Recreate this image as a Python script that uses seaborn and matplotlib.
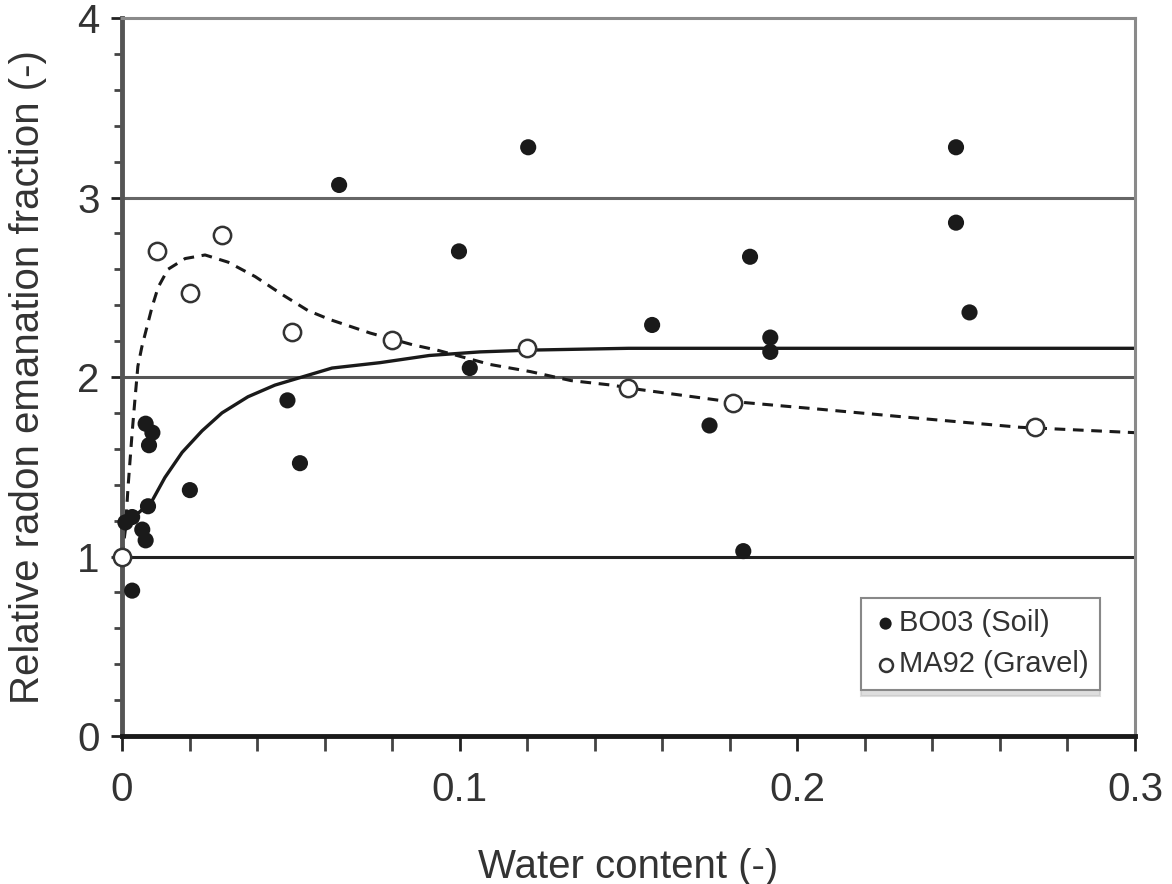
import numpy as np
import pandas as pd
import seaborn as sns
import matplotlib.pyplot as plt
from matplotlib.ticker import MultipleLocator

# BO03 (Soil) measured points
soil_x = [0.001, 0.003, 0.006, 0.007, 0.0077, 0.003, 0.007, 0.009, 0.008, 0.0201,
          0.049, 0.0527, 0.0643, 0.0998, 0.103, 0.1203, 0.157, 0.174, 0.184, 0.186,
          0.192, 0.192, 0.247, 0.247, 0.251]
soil_y = [1.19, 1.22, 1.15, 1.09, 1.28, 0.81, 1.74, 1.69, 1.62, 1.37,
          1.87, 1.52, 3.07, 2.70, 2.05, 3.28, 2.29, 1.73, 1.03, 2.67,
          2.22, 2.14, 3.28, 2.86, 2.36]

# MA92 (Gravel) measured points
gravel_x = [0.0, 0.0104, 0.0201, 0.0296, 0.0503, 0.080, 0.120, 0.150, 0.181, 0.2705]
gravel_y = [1.0, 2.70, 2.47, 2.79, 2.25, 2.205, 2.16, 1.94, 1.855, 1.72]

# fitted curves
dash_x = [0.0, 0.001, 0.0018, 0.003, 0.0039, 0.0047, 0.0059, 0.0074, 0.0089, 0.0107,
          0.0136, 0.0187, 0.0246, 0.0314, 0.0394, 0.0474, 0.0551, 0.0616, 0.0735, 0.086,
          0.0933, 0.109, 0.121, 0.133, 0.145, 0.1534, 0.177, 0.207, 0.236, 0.266, 0.30]
dash_y = [1.0, 1.15, 1.39, 1.69, 1.89, 2.06, 2.17, 2.28, 2.39, 2.50,
          2.60, 2.66, 2.68, 2.64, 2.56, 2.46, 2.37, 2.32, 2.245, 2.18,
          2.15, 2.07, 2.03, 1.98, 1.955, 1.93, 1.87, 1.82, 1.77, 1.72, 1.69]

solid_x = [0.002, 0.0047, 0.0089, 0.0127, 0.0178, 0.0237, 0.0296, 0.0373, 0.0453, 0.0533,
           0.0622, 0.0764, 0.091, 0.106, 0.121, 0.15, 0.2, 0.3]
solid_y = [1.20, 1.24, 1.31, 1.44, 1.58, 1.70, 1.80, 1.89, 1.955, 2.00,
           2.05, 2.08, 2.12, 2.14, 2.15, 2.16, 2.16, 2.16]

soil = pd.DataFrame({'x': soil_x, 'y': soil_y})
gravel = pd.DataFrame({'x': gravel_x, 'y': gravel_y})
dash = pd.DataFrame({'x': dash_x, 'y': dash_y})
solid = pd.DataFrame({'x': solid_x, 'y': solid_y})

sns.set_style('ticks')
plt.rcParams['font.family'] = ['Liberation Sans', 'DejaVu Sans']

fig = plt.figure(figsize=(11.72, 8.84), dpi=100)
ax = fig.add_axes([0.1041, 0.1674, 0.8643, 0.8122])

# horizontal reference lines
ax.axhline(3, color='#666666', lw=2.2, zorder=1)
ax.axhline(2, color='#555555', lw=2.2, zorder=1)
ax.axhline(1, color='#222222', lw=2.2, zorder=1)

sns.lineplot(data=solid, x='x', y='y', ax=ax, color='#1a1a1a', lw=2.4, sort=False, zorder=2)
sns.lineplot(data=dash, x='x', y='y', ax=ax, color='#1a1a1a', lw=2.2, sort=False,
             linestyle=(0, (3.5, 2.5)), zorder=2)

sns.scatterplot(data=soil, x='x', y='y', ax=ax, color='#1a1a1a', s=135, edgecolor='none',
                label='BO03 (Soil)', zorder=4, clip_on=False)
sns.scatterplot(data=gravel, x='x', y='y', ax=ax, facecolor='white', edgecolor='#333333',
                s=155, linewidth=1.8, label='MA92 (Gravel)', zorder=5, clip_on=False)

ax.set_xlim(0, 0.3)
ax.set_ylim(0, 4)
ax.xaxis.set_minor_locator(MultipleLocator(0.02))
ax.yaxis.set_minor_locator(MultipleLocator(0.2))
ax.set_xticks([0, 0.1, 0.2, 0.3])
ax.set_xticklabels(['0', '0.1', '0.2', '0.3'])
ax.set_yticks([0, 1, 2, 3, 4])
ax.set_yticklabels(['0', '1', '2', '3', '4'])

ax.tick_params(axis='x', which='major', direction='out', length=11, width=2, color='#222222',
               pad=14, labelsize=29, labelcolor='#333333')
ax.tick_params(axis='x', which='minor', direction='out', length=11, width=2, color='#444444')
ax.tick_params(axis='y', which='major', direction='out', length=8, width=2, color='#222222',
               pad=8, labelsize=29, labelcolor='#333333')
ax.tick_params(axis='y', which='minor', direction='out', length=6, width=2, color='#444444')

for side in ['top', 'right']:
    ax.spines[side].set_visible(True)
    ax.spines[side].set_color('#8a8a8a')
    ax.spines[side].set_linewidth(2.2)
ax.spines['left'].set_color('#555555')
ax.spines['left'].set_linewidth(3.5)
ax.spines['bottom'].set_color('#1a1a1a')
ax.spines['bottom'].set_linewidth(3.5)

ax.set_xlabel('Water content (-)', fontsize=29, color='#333333', labelpad=28)
ax.set_ylabel('Relative radon emanation fraction (-)', fontsize=29, color='#333333',
              labelpad=22)

leg = ax.legend(loc='lower right', bbox_to_anchor=(0.9655, 0.064), borderaxespad=0,
                fontsize=21, frameon=True, fancybox=False, edgecolor='#888888',
                framealpha=1, handletextpad=0.0, handlelength=0.9, borderpad=0.4,
                labelspacing=0.45, markerscale=0.75,
                shadow={'ox': 0, 'oy': -4, 'shade': 0.25})
leg.get_frame().set_linewidth(1.5)
for t in leg.get_texts():
    t.set_color('#333333')

fig.savefig('out.png', dpi=100)
